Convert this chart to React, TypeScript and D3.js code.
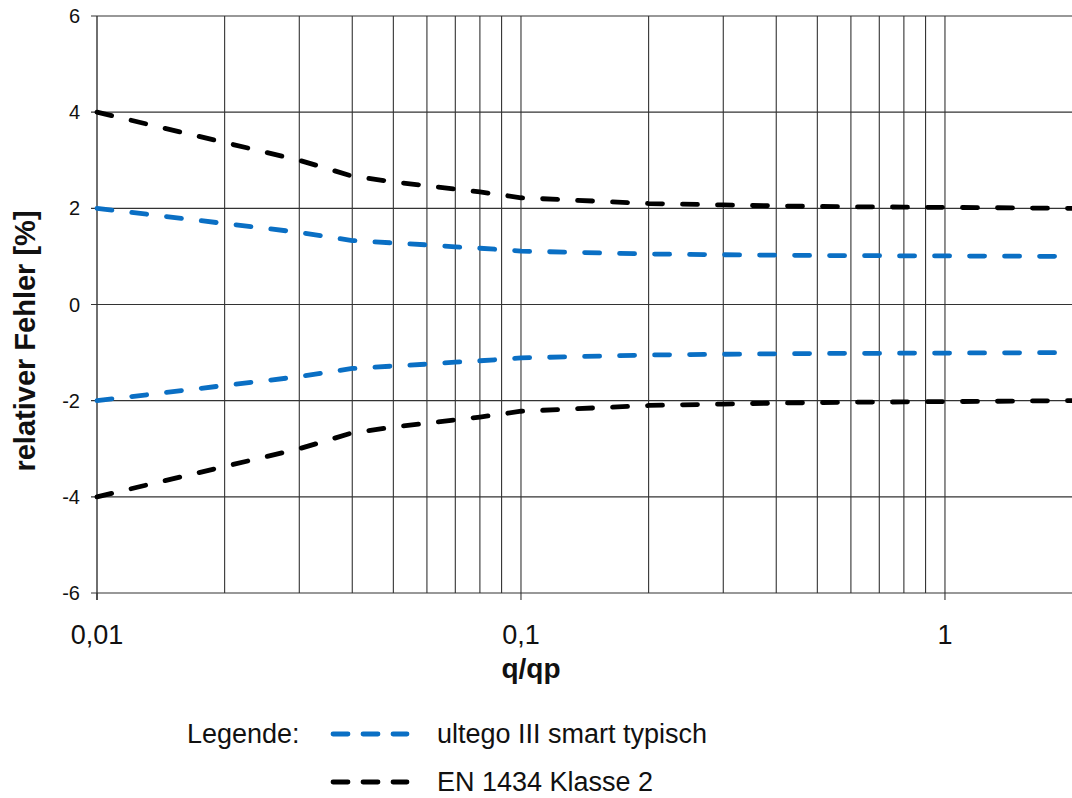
import { useEffect, useRef } from "react";
import * as d3 from "d3";

// q/qp points of the curves
const qRatio = [0.01, 0.03, 0.04, 0.05, 0.06, 0.07, 0.08, 0.09, 0.1, 0.2, 0.3, 0.4, 0.5, 0.6, 0.7, 0.8, 0.9, 1, 2];
// EN 1434 Klasse 2 limit (upper, lower)
const enUpper = [4, 3, 2.67, 2.55, 2.47, 2.4, 2.34, 2.28, 2.22, 2.1, 2.07, 2.05, 2.04, 2.03, 2.03, 2.025, 2.02, 2.02, 2.0];
const enLower = [-4, -3, -2.67, -2.55, -2.47, -2.4, -2.34, -2.28, -2.22, -2.1, -2.07, -2.05, -2.04, -2.03, -2.03, -2.025, -2.02, -2.02, -2.0];
// ultego III smart typical
const ultUpper = [2, 1.5, 1.33, 1.28, 1.24, 1.2, 1.17, 1.14, 1.11, 1.05, 1.035, 1.025, 1.02, 1.015, 1.015, 1.01, 1.01, 1.01, 1.0];
const ultLower = [-2, -1.5, -1.33, -1.28, -1.24, -1.2, -1.17, -1.14, -1.11, -1.05, -1.035, -1.025, -1.02, -1.015, -1.015, -1.01, -1.01, -1.01, -1.0];

const yTicks = [6, 4, 2, 0, -2, -4, -6];
const xGrid = [0.02, 0.03, 0.04, 0.05, 0.06, 0.07, 0.08, 0.09, 0.1, 0.2, 0.3, 0.4, 0.5, 0.6, 0.7, 0.8, 0.9, 1];
const xLabels = [0.01, 0.1, 1];

const BLUE = "#0a6fc4";
const FONT = "Liberation Sans, Arial, sans-serif";

export default function App() {
  const svgRef = useRef<SVGSVGElement>(null);

  useEffect(() => {
    const svg = d3.select(svgRef.current);
    svg.selectAll("*").remove();

    const x = d3.scaleLog().domain([0.01, 2]).range([97, 1072.6]);
    const y = d3.scaleLinear().domain([-6, 6]).range([593, 16]);

    // grid
    svg.selectAll(".hgrid")
      .data(yTicks)
      .join("line")
      .attr("x1", 91).attr("x2", 1072)
      .attr("y1", d => y(d)).attr("y2", d => y(d))
      .attr("stroke", "#333").attr("stroke-width", 1.1);

    svg.selectAll(".vgrid")
      .data(xGrid)
      .join("line")
      .attr("x1", d => x(d)).attr("x2", d => x(d))
      .attr("y1", y(6)).attr("y2", y(-6))
      .attr("stroke", "#333").attr("stroke-width", 1.1);

    // axis lines + ticks
    svg.append("line")
      .attr("x1", x(0.01)).attr("x2", x(0.01))
      .attr("y1", y(6)).attr("y2", y(-6) + 7)
      .attr("stroke", "#333").attr("stroke-width", 1.4);
    svg.selectAll(".xtick")
      .data(xLabels)
      .join("line")
      .attr("x1", d => x(d)).attr("x2", d => x(d))
      .attr("y1", y(-6)).attr("y2", y(-6) + 7)
      .attr("stroke", "#333").attr("stroke-width", 1.1);

    svg.selectAll(".ylab")
      .data(yTicks)
      .join("text")
      .attr("x", 80).attr("y", d => y(d))
      .attr("dy", "0.35em")
      .attr("text-anchor", "end")
      .attr("font-family", FONT).attr("font-size", 20)
      .attr("fill", "#111")
      .text(d => String(d));

    svg.selectAll(".xlab")
      .data(xLabels)
      .join("text")
      .attr("x", d => x(d)).attr("y", 644)
      .attr("text-anchor", "middle")
      .attr("font-family", FONT).attr("font-size", 27)
      .attr("fill", "#111")
      .text(d => String(d).replace(".", ","));

    svg.append("text")
      .attr("x", 531).attr("y", 678)
      .attr("text-anchor", "middle")
      .attr("font-family", FONT).attr("font-size", 28).attr("font-weight", "bold")
      .attr("fill", "#111")
      .text("q/qp");

    svg.append("text")
      .attr("transform", "translate(35,341) rotate(-90)")
      .attr("text-anchor", "middle")
      .attr("font-family", FONT).attr("font-size", 29).attr("font-weight", "bold")
      .attr("fill", "#111")
      .text("relativer Fehler [%]");

    // curves
    const line = d3.line<number>()
      .x((_, i) => x(qRatio[i]))
      .y(d => y(d));

    const series = [
      { values: enUpper, color: "#000" },
      { values: enLower, color: "#000" },
      { values: ultUpper, color: BLUE },
      { values: ultLower, color: BLUE },
    ];
    svg.selectAll(".curve")
      .data(series)
      .join("path")
      .attr("d", d => line(d.values))
      .attr("fill", "none")
      .attr("stroke", d => d.color)
      .attr("stroke-width", 4.8)
      .attr("stroke-linecap", "round")
      .attr("stroke-dasharray", "15 20");

    // legend
    svg.append("text")
      .attr("x", 187).attr("y", 743)
      .attr("font-family", FONT).attr("font-size", 27).attr("fill", "#111")
      .text("Legende:");
    const legend = [
      { label: "ultego III smart typisch", color: BLUE },
      { label: "EN 1434 Klasse 2", color: "#000" },
    ];
    const lg = svg.selectAll(".leg")
      .data(legend)
      .join("g")
      .attr("transform", (_, i) => `translate(0,${734 + i * 48})`);
    lg.append("line")
      .attr("x1", 333).attr("x2", 407)
      .attr("stroke", d => d.color)
      .attr("stroke-width", 4.8)
      .attr("stroke-linecap", "round")
      .attr("stroke-dasharray", "15 15");
    lg.append("text")
      .attr("x", 437).attr("y", 9)
      .attr("font-family", FONT).attr("font-size", 27).attr("fill", "#111")
      .text(d => d.label);
  }, []);

  return (
    <svg
      ref={svgRef}
      width={1072}
      height={798}
      style={{ position: "absolute", left: 0, top: 0, background: "#fff" }}
    />
  );
}
